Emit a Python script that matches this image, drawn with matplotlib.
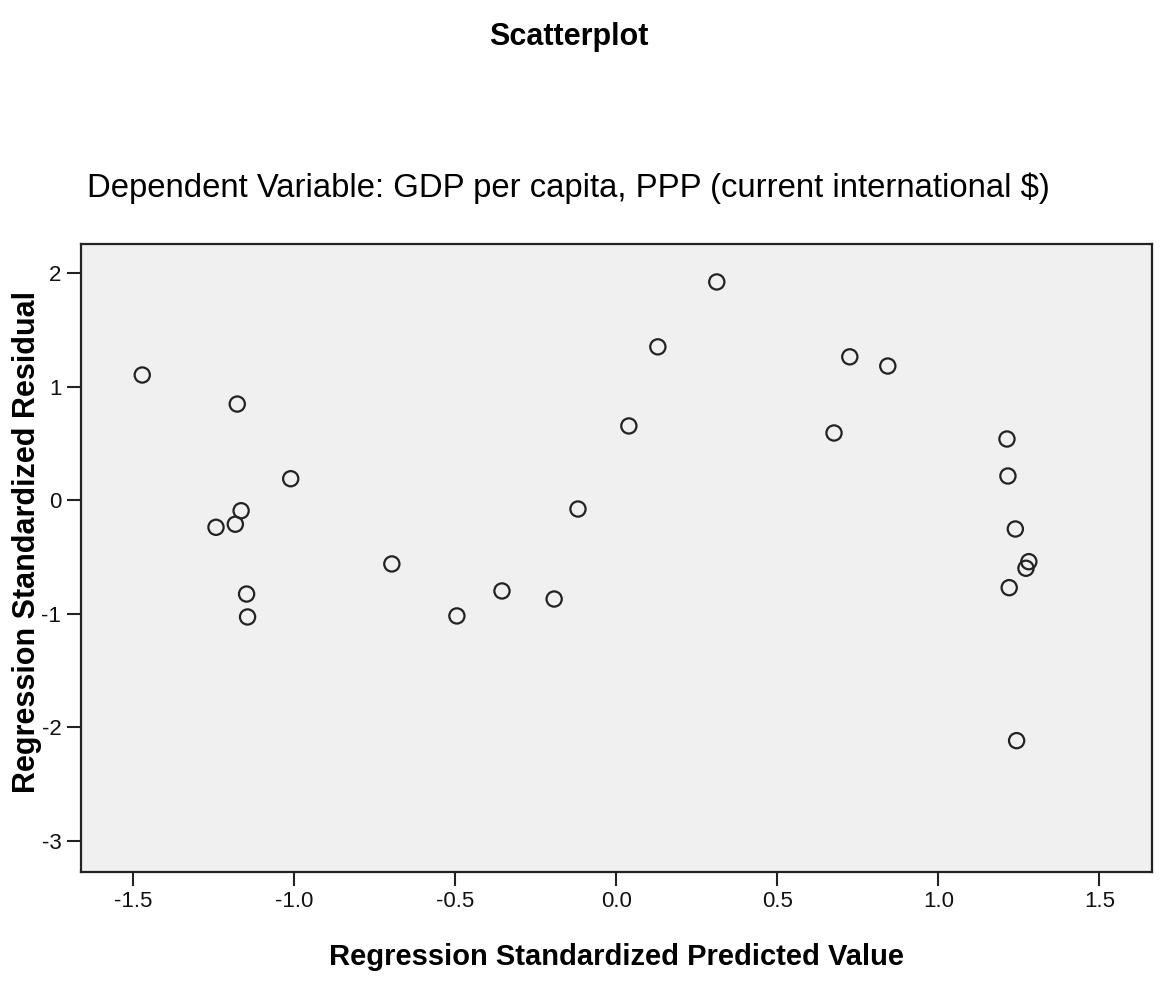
import matplotlib
matplotlib.use("Agg")
import matplotlib.pyplot as plt

plt.rcParams['font.family'] = ['Liberation Sans', 'DejaVu Sans']

predicted = [-1.472, -1.177, -1.011, -1.165, -1.183, -1.243, -1.148, -1.145,
             -0.697, -0.495, -0.355, -0.193, -0.119, 0.039, 0.129, 0.312,
             0.676, 0.725, 0.843, 1.213, 1.216, 1.239, 1.281, 1.272, 1.220, 1.243]
residual = [1.104, 0.848, 0.190, -0.092, -0.211, -0.238, -0.826, -1.028,
            -0.561, -1.019, -0.799, -0.870, -0.077, 0.655, 1.352, 1.924,
            0.593, 1.264, 1.183, 0.540, 0.214, -0.253, -0.541, -0.599, -0.770, -2.118]

x_ticks = [-1.5, -1.0, -0.5, 0.0, 0.5, 1.0, 1.5]
x_tick_labels = ['-1.5', '-1.0', '-0.5', '0.0', '0.5', '1.0', '1.5']
y_ticks = [2, 1, 0, -1, -2, -3]
y_tick_labels = ['2', '1', '0', '-1', '-2', '-3']

fig = plt.figure(figsize=(11.6, 9.84), dpi=100)
fig.patch.set_facecolor('white')
ax = fig.add_axes([0.0696, 0.1141, 0.9234, 0.6379])
ax.set_facecolor('#f0f0f0')

ax.scatter(predicted, residual, s=120, facecolors='none', edgecolors='#222222',
           linewidths=1.6, zorder=3)

ax.set_xlim(-1.663, 1.663)
ax.set_ylim(-3.273, 2.258)
ax.set_xticks(x_ticks)
ax.set_xticklabels(x_tick_labels)
ax.set_yticks(y_ticks)
ax.set_yticklabels(y_tick_labels)
ax.tick_params(axis='both', direction='out', length=10, width=1.5, color='#222222',
               labelsize=16, pad=4, labelcolor='#111111')

for sp in ax.spines.values():
    sp.set_linewidth(1.6)
    sp.set_color('#222222')

ax.set_xlabel('Regression Standardized Predicted Value', fontsize=21,
              fontweight='bold', labelpad=22)
ax.set_ylabel('Regression Standardized Residual', fontsize=22, fontweight='bold')
ax.yaxis.set_label_coords(-0.036, 0.525)

fig.text(0.49, 0.962, 'Scatterplot', fontsize=22, fontweight='bold',
         ha='center', va='center')
fig.text(0.49, 0.809, 'Dependent Variable: GDP per capita, PPP (current international $)',
         fontsize=23.7, ha='center', va='center')

fig.savefig('out.png', dpi=100, facecolor='white')
